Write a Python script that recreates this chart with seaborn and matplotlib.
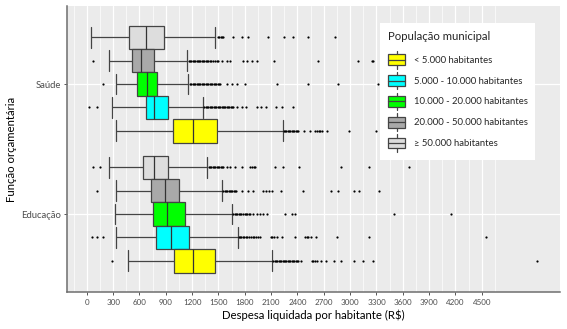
import numpy as np
import pandas as pd
import matplotlib
matplotlib.use("Agg")
import matplotlib.pyplot as plt
import seaborn as sns
from matplotlib.patches import Patch, Rectangle
from matplotlib.lines import Line2D
from matplotlib.legend_handler import HandlerBase

# --- dados ---
funcoes = ["Saúde", "Educação"]
faixas = ["≥ 50.000 habitantes", "20.000 - 50.000 habitantes",
          "10.000 - 20.000 habitantes", "5.000 - 10.000 habitantes",
          "< 5.000 habitantes"]
cores = ["#DDDDDD", "#A9A9A9", "#00FF00", "#00FFFF", "#FFFF00"]

# resumo dos boxplots, na ordem de `faixas`
saude_min = [50, 254, 330, 292, 330]
saude_q1 = [485, 512, 577, 672, 987]
saude_med = [675, 615, 683, 770, 1207]
saude_q3 = [880, 768, 804, 929, 1488]
saude_max = [1464, 1146, 1157, 1328, 2232]

educ_min = [257, 334, 322, 334, 474]
educ_q1 = [637, 729, 751, 786, 998]
educ_med = [770, 892, 918, 957, 1214]
educ_q3 = [929, 1055, 1120, 1169, 1461]
educ_max = [1374, 1545, 1659, 1720, 2114]

# outliers (valores aproximados)
out_saude_50k = [1495, 1510, 1525, 1540, 1555, 1670, 1765, 1840, 2070, 2250,
                 2345, 2525, 2830]
out_saude_20k = [68, 1160, 1175, 1190, 1205, 1220, 1235, 1250, 1265, 1280, 1295,
                 1310, 1325, 1340, 1355, 1370, 1385, 1400, 1420, 1440, 1460,
                 1480, 1500, 1535, 1595, 1632, 1785, 1830, 1880, 1936, 2135,
                 2635, 3085, 3250, 3265]
out_saude_10k = [189, 1175, 1190, 1205, 1220, 1235, 1250, 1265, 1280, 1295,
                 1310, 1325, 1340, 1355, 1370, 1385, 1400, 1415, 1430, 1445,
                 1460, 1475, 1490, 1505, 1520, 1594, 1651, 1715, 1803, 2164,
                 2524, 2866, 3312]
out_saude_5k = [30, 121, 1340, 1355, 1370, 1385, 1400, 1415, 1430, 1445, 1460,
                1475, 1490, 1505, 1520, 1535, 1550, 1565, 1580, 1595, 1610,
                1625, 1640, 1655, 1670, 1708, 1765, 1811, 1936, 1985, 2039,
                2160, 2225, 2345]
out_saude_0k = [2245, 2260, 2275, 2290, 2305, 2320, 2335, 2350, 2365, 2380,
                2395, 2410, 2470, 2545, 2605, 2620, 2640, 2660, 2677, 2740,
                2985, 3295]

out_educ_50k = [68, 151, 1390, 1405, 1420, 1435, 1450, 1465, 1480, 1495, 1510,
                1525, 1540, 1555, 1595, 1632, 1689, 1765, 1860, 1880, 1900,
                1918, 2144, 2232, 2421, 2893, 3219, 3671]
out_educ_20k = [114, 1555, 1570, 1585, 1600, 1615, 1630, 1645, 1660, 1675,
                1690, 1705, 1765, 1841, 1897, 2011, 2040, 2075, 2107, 2213,
                2460, 2780, 2857, 3046, 3101, 3331]
out_educ_10k = [1670, 1685, 1700, 1715, 1730, 1745, 1760, 1780, 1800, 1815,
                1830, 1845, 1860, 1897, 1936, 1975, 2011, 2050, 2259, 2335,
                2373, 3503, 4153]
out_educ_5k = [57, 121, 189, 1730, 1745, 1760, 1775, 1790, 1810, 1830, 1850,
               1870, 1890, 1910, 1930, 1950, 1970, 2100, 2115, 2130, 2164,
               2221, 2373, 2490, 2505, 2520, 2555, 2608, 2850, 3219, 4544]
out_educ_0k = [285, 2125, 2140, 2155, 2170, 2185, 2200, 2215, 2230, 2245, 2260,
               2275, 2290, 2305, 2320, 2335, 2350, 2365, 2380, 2395, 2410,
               2435, 2563, 2580, 2600, 2620, 2670, 2730, 2818, 2893, 3048,
               3147, 3257, 5132]

x_ticks = list(range(0, 4501, 300))

EDGE = "#444444"


class BoxKeyHandler(HandlerBase):
    """Chave de legenda no estilo ggplot (caixa + mediana + bigodes)."""

    def create_artists(self, legend, orig_handle, xdescent, ydescent,
                       width, height, fontsize, trans):
        x0, y0 = -xdescent, -ydescent
        cx = x0 + width / 2
        bh = height * 0.62
        by = y0 + (height - bh) / 2
        rect = Rectangle((x0, by), width, bh, facecolor=orig_handle.get_facecolor(),
                         edgecolor=EDGE, lw=0.9, transform=trans)
        med = Line2D([x0, x0 + width], [y0 + height / 2] * 2, color=EDGE,
                     lw=0.9, transform=trans)
        wlo = Line2D([cx, cx], [y0, by], color=EDGE, lw=0.9, transform=trans)
        whi = Line2D([cx, cx], [by + bh, y0 + height], color=EDGE, lw=0.9,
                     transform=trans)
        return [rect, med, wlo, whi]


def main():
    sns.set_theme(style="darkgrid")
    plt.rcParams["font.family"] = ["Lato", "DejaVu Sans"]

    resumo = {
        "Saúde": [saude_min, saude_q1, saude_med, saude_q3, saude_max],
        "Educação": [educ_min, educ_q1, educ_med, educ_q3, educ_max],
    }
    outliers = {
        "Saúde": [out_saude_50k, out_saude_20k, out_saude_10k, out_saude_5k, out_saude_0k],
        "Educação": [out_educ_50k, out_educ_20k, out_educ_10k, out_educ_5k, out_educ_0k],
    }

    rows = []
    for f in funcoes:
        for i, faixa in enumerate(faixas):
            for stat in resumo[f]:
                rows.append((f, faixa, stat[i]))
    df = pd.DataFrame(rows, columns=["funcao", "faixa", "despesa"])

    fig = plt.figure(figsize=(5.67, 3.29), dpi=100)
    ax = fig.add_axes([67 / 567, 1 - 292 / 329, 492.7 / 567, 286 / 329])
    ax.set_facecolor("#EBEBEB")

    width = 0.9
    sns.boxplot(data=df, x="despesa", y="funcao", hue="faixa", order=funcoes,
                hue_order=faixas, palette=cores, saturation=1, width=width,
                gap=0, whis=(0, 100), showfliers=False, linewidth=0.9,
                linecolor=EDGE, capwidths=0.16, legend=False, ax=ax,
                medianprops={"color": "#333333"})

    # outliers na mesma posição (dodge) de cada caixa
    n = len(faixas)
    offsets = np.linspace(0, width - width / n, n)
    offsets -= offsets.mean()
    xs, ys = [], []
    for j, f in enumerate(funcoes):
        for i in range(n):
            for v in outliers[f][i]:
                xs.append(v)
                ys.append(j + offsets[i])
    ax.scatter(xs, ys, s=2.5, color="black", linewidths=0, zorder=5)

    # limites como no ggplot (expansão de 5%)
    all_x = xs + list(df["despesa"])
    lo, hi = min(all_x), max(all_x)
    pad = 0.05 * (hi - lo)
    ax.set_xlim(lo - pad, hi + pad)
    ax.set_ylim(len(funcoes) - 1 + 0.6, -0.6)

    ax.set_xticks(x_ticks)
    ax.set_xticklabels([str(t) for t in x_ticks])
    ax.set_xticks(np.arange(-150, 4801, 300), minor=True)
    ax.grid(False)
    ax.grid(True, which="major", axis="both", color="white", lw=0.9)
    ax.grid(True, which="minor", axis="x", color="white", lw=0.5)
    ax.set_axisbelow(True)

    for side in ["top", "right"]:
        ax.spines[side].set_visible(False)
    for side in ["left", "bottom"]:
        ax.spines[side].set_visible(True)
        ax.spines[side].set_color("#6E6E6E")
        ax.spines[side].set_linewidth(1.1)

    ax.tick_params(axis="x", which="major", length=2.5, width=0.7, color="#555555",
                   labelsize=5.8, labelcolor="#4D4D4D", pad=2.5, bottom=True)
    ax.tick_params(axis="x", which="minor", length=0)
    ax.tick_params(axis="y", which="major", length=2.5, width=0.7, color="#555555",
                   labelsize=6.8, labelcolor="#4D4D4D", pad=2, left=True)

    ax.set_xlabel("Despesa liquidada por habitante (R$)", fontsize=8.2,
                  color="black", labelpad=2.5)
    ax.set_ylabel("Função orçamentária", fontsize=8.2, color="black", labelpad=2.5)

    handles = [Patch(facecolor=c) for c in cores][::-1]
    labels = faixas[::-1]
    leg = ax.legend(handles, labels, title="População municipal",
                    handler_map={Patch: BoxKeyHandler()},
                    loc="upper left", bbox_to_anchor=(380 / 567, 1 - 23 / 329),
                    bbox_transform=fig.transFigure, borderaxespad=0,
                    fontsize=6.8, title_fontsize=8.2, frameon=True,
                    fancybox=False, framealpha=1, facecolor="white",
                    edgecolor="none", handlelength=1.8, handleheight=2.5,
                    handletextpad=0.9, labelspacing=0.33, borderpad=0.85,
                    alignment="left")
    leg.get_frame().set_linewidth(0)
    leg._legend_box.sep = 6.5

    fig.savefig("out.png", dpi=100)


if __name__ == "__main__":
    main()
